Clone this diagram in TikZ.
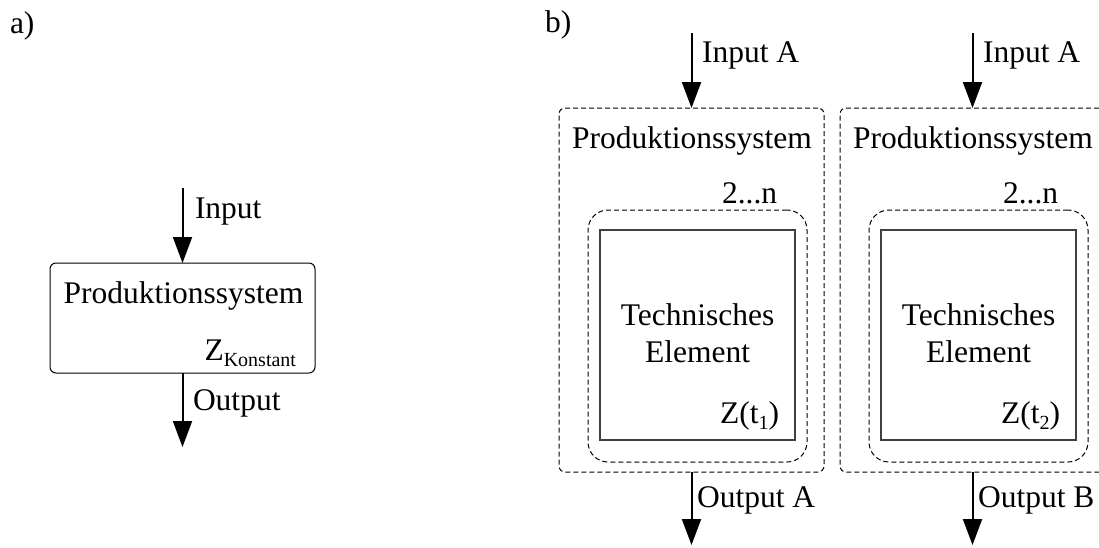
\documentclass[tikz,border=0pt]{standalone}
\usepackage{fontspec}
\setmainfont{Liberation Serif}
\usetikzlibrary{arrows.meta}
\begin{document}
\begin{tikzpicture}[x=1pt,y=-1pt,
  every node/.style={inner sep=0pt,outer sep=0pt,font=\fontsize{31.5}{36}\selectfont},
  flow/.style={line width=2pt,-{Triangle[length=26pt,width=19pt]}},
  sysbox/.style={draw,line width=1pt,rounded corners=6pt},
  dashbox/.style={draw,line width=1pt,dash pattern=on 5pt off 3pt,rounded corners=6pt},
  multibox/.style={draw,line width=1pt,dash pattern=on 5pt off 3pt,rounded corners=20pt},
  elembox/.style={draw,line width=1.3pt,draw=black!75},
  lbl/.style={anchor=base west},
  sub/.style={font=\fontsize{20}{24}\selectfont}
]
\useasboundingbox (0,0) rectangle (1099,547);
\clip (0,0) rectangle (1099,547);

% ---------- a) constant production system ----------
\node[lbl] (la) at (10,33) {a)};
\node[sysbox,minimum width=265pt,minimum height=110pt] (psa) at (182.5,318) {};
\node[anchor=base] (psatxt) at (183.5,303) {Produktionssystem};
\node[anchor=base east] (za) at (296,360) {Z\raisebox{-6pt}{\fontsize{20}{24}\selectfont Konstant}};
\coordinate (ina) at (182.5,188);
\coordinate (outa) at (182.5,447);
\draw[flow] (ina) -- (psa.north);
\draw[flow] (psa.south) -- (outa);
\node[lbl] (inalbl) at (195,218) {Input};
\node[lbl] (outalbl) at (193,410) {Output};

% ---------- b) production systems with technical elements ----------
\node[lbl] (lb) at (545,32) {b)};

% system 1
\node[dashbox,minimum width=265pt,minimum height=364pt] (ps1) at (691.5,290) {};
\node[lbl] (ps1txt) at (572,148) {Produktionssystem};
\node[lbl] (n1) at (722,203) {2...n};
\node[multibox,minimum width=219pt,minimum height=252pt] (mul1) at (697.5,336) {};
\node[elembox,minimum width=195pt,minimum height=210pt] (te1) at (697.5,335) {};
\node[anchor=base] (te1a) at (697.5,325) {Technisches};
\node[anchor=base] (te1b) at (697.5,362) {Element};
\node[anchor=base east] (z1) at (779,423) {Z(t\raisebox{-6pt}{\fontsize{20}{24}\selectfont 1})};
\coordinate (in1) at (691.5,33);
\coordinate (out1) at (691.5,545);
\draw[flow] (in1) -- (ps1.north);
\draw[flow] (ps1.south) -- (out1);
\node[lbl] (in1lbl) at (702,62) {Input A};
\node[lbl] (out1lbl) at (697,507) {Output A};

% system 2
\node[dashbox,minimum width=265pt,minimum height=364pt] (ps2) at (972.5,290) {};
\node[lbl] (ps2txt) at (853,148) {Produktionssystem};
\node[lbl] (n2) at (1003,203) {2...n};
\node[multibox,minimum width=219pt,minimum height=252pt] (mul2) at (978.5,336) {};
\node[elembox,minimum width=195pt,minimum height=210pt] (te2) at (978.5,335) {};
\node[anchor=base] (te2a) at (978.5,325) {Technisches};
\node[anchor=base] (te2b) at (978.5,362) {Element};
\node[anchor=base east] (z2) at (1060,423) {Z(t\raisebox{-6pt}{\fontsize{20}{24}\selectfont 2})};
\coordinate (in2) at (972.5,33);
\coordinate (out2) at (972.5,545);
\draw[flow] (in2) -- (ps2.north);
\draw[flow] (ps2.south) -- (out2);
\node[lbl] (in2lbl) at (983,62) {Input A};
\node[lbl] (out2lbl) at (978,507) {Output B};
\end{tikzpicture}
\end{document}
